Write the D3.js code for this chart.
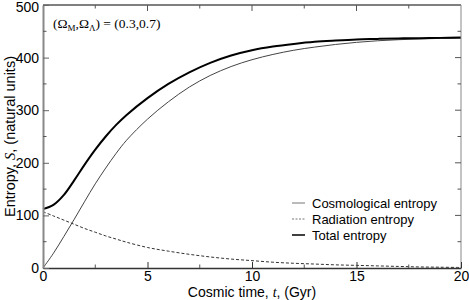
<!DOCTYPE html>
<html>
<head>
<meta charset="utf-8">
<script src="https://cdn.jsdelivr.net/npm/d3@7"></script>
<style>
  body { margin: 0; background: #fff; }
  text { font-family: "Liberation Sans", Arial, sans-serif; }
</style>
</head>
<body>
<div id="chart"></div>
<script>
// values
const times = [0, 0.5, 1, 1.5, 2, 2.5, 3, 3.5, 4, 5, 6, 7, 8, 9, 10, 11, 12, 13, 14, 15, 16, 17, 18, 19, 20];
const cosmological = [0, 28, 60, 93, 127, 160, 190, 218, 243, 283, 316, 344, 366, 383, 396, 406, 414, 420, 425, 429, 432, 434, 435.5, 436.5, 437];
const radiation = [107, 99, 91, 83, 75, 68, 61, 55, 49, 39, 32, 26, 21, 17, 14, 11, 9, 7.5, 6, 5, 4, 3, 2, 1.5, 1];
const total = [112, 120, 139, 167, 197, 225, 250, 272, 291, 323, 350, 372, 390, 404, 414, 421, 426, 430, 432.5, 434.5, 435.5, 436.5, 437, 437.5, 438];

const xTicks = [0, 5, 10, 15, 20];
const yTicks = [0, 100, 200, 300, 400, 500];
const xMinor = [2.5, 7.5, 12.5, 17.5];
const yMinor = [50, 150, 250, 350, 450];

const series = [
  {name: 'Cosmological entropy', values: cosmological, color: '#444', width: 1, dash: null, legendColor: '#777'},
  {name: 'Radiation entropy', values: radiation, color: '#333', width: 1, dash: '3,2', legendColor: '#777'},
  {name: 'Total entropy', values: total, color: '#000', width: 2, dash: null, legendColor: '#000'}
];

const W = 469, H = 300;
const margin = {top: 5, right: 8, bottom: 32, left: 43};
const width = W - margin.left - margin.right;
const height = H - margin.top - margin.bottom;

const svg = d3.select('#chart').append('svg')
    .attr('width', W)
    .attr('height', H);

const chart = svg.append('g')
    .attr('transform', `translate(${margin.left},${margin.top})`);

const x = d3.scaleLinear().domain([0, 20]).range([0, width]);
const y = d3.scaleLinear().domain([0, 500]).range([height, 0]);

// curves
const line = d3.line()
    .x(d => x(d[0]))
    .y(d => y(d[1]))
    .curve(d3.curveCatmullRom.alpha(0.5));

series.forEach(s => {
  chart.append('path')
      .datum(times.map((t, i) => [t, s.values[i]]))
      .attr('fill', 'none')
      .attr('stroke', s.color)
      .attr('stroke-width', s.width)
      .attr('stroke-dasharray', s.dash)
      .attr('d', line);
});

// frame
chart.append('line').attr('x1', 0).attr('x2', width).attr('y1', 0).attr('y2', 0)
    .attr('stroke', '#000').attr('stroke-width', 1);
chart.append('line').attr('x1', width).attr('x2', width).attr('y1', 0).attr('y2', height)
    .attr('stroke', '#888').attr('stroke-width', 1);

// axes with inward ticks
const bottom = chart.append('g')
    .attr('transform', `translate(0,${height})`)
    .call(d3.axisBottom(x).tickValues(xTicks).tickSizeInner(-6).tickSizeOuter(0).tickPadding(3));
const left = chart.append('g')
    .call(d3.axisLeft(y).tickValues(yTicks).tickSizeInner(-6).tickSizeOuter(0).tickPadding(4));

[bottom, left].forEach(a => {
  a.selectAll('text').attr('font-size', 14).attr('fill', '#000')
      .style('font-family', '"Liberation Sans", Arial, sans-serif');
});
left.selectAll('text').filter(d => d === 500).attr('dy', '0.45em');
bottom.select('.domain').attr('stroke', '#333').attr('stroke-width', 1.5);
left.select('.domain').attr('stroke', '#888').attr('stroke-width', 2);
bottom.selectAll('.tick line').attr('stroke', '#333');
left.selectAll('.tick line').attr('stroke', '#666');

// minor ticks and mirrored ticks on top / right
const tickG = chart.append('g').attr('stroke', '#555').attr('stroke-width', 1);
xTicks.concat(xMinor).forEach(v => {
  const len = xMinor.includes(v) ? 3.5 : 6;
  if (xMinor.includes(v)) {
    tickG.append('line').attr('x1', x(v)).attr('x2', x(v)).attr('y1', height).attr('y2', height - len);
  }
  if (v > 0 && v < 20) {
    tickG.append('line').attr('x1', x(v)).attr('x2', x(v)).attr('y1', 0).attr('y2', len);
  }
});
yTicks.concat(yMinor).forEach(v => {
  const len = yMinor.includes(v) ? 3.5 : 6;
  if (yMinor.includes(v)) {
    tickG.append('line').attr('x1', 0).attr('x2', len).attr('y1', y(v)).attr('y2', y(v));
  }
  if (v > 0 && v < 500) {
    tickG.append('line').attr('x1', width).attr('x2', width - len).attr('y1', y(v)).attr('y2', y(v));
  }
});

// axis titles
const xTitle = svg.append('text')
    .attr('x', margin.left + width / 2)
    .attr('y', 297)
    .attr('text-anchor', 'middle')
    .attr('font-size', 14);
xTitle.append('tspan').text('Cosmic time, ');
xTitle.append('tspan').attr('font-family', '"Liberation Serif", serif').attr('font-style', 'italic').text('t');
xTitle.append('tspan').text(', (Gyr)');

const yTitle = svg.append('text')
    .attr('transform', `translate(15,${margin.top + height / 2}) rotate(-90)`)
    .attr('text-anchor', 'middle')
    .attr('font-size', 14.5);
yTitle.append('tspan').text('Entropy, ');
yTitle.append('tspan').attr('font-family', '"Liberation Serif", serif').attr('font-style', 'italic').text('S');
yTitle.append('tspan').text(', (natural units)');

// annotation
const note = chart.append('text')
    .attr('x', 10)
    .attr('y', 23)
    .attr('font-size', 13.5)
    .style('font-family', '"Liberation Serif", "Times New Roman", serif');
note.append('tspan').text('(Ω');
note.append('tspan').attr('font-size', 9).attr('dy', 3).text('M');
note.append('tspan').attr('dy', -3).text(',Ω');
note.append('tspan').attr('font-size', 9).attr('dy', 3).text('Λ');
note.append('tspan').attr('dy', -3).text(') = (0.3,0.7)');

// legend
const legend = svg.append('g')
    .attr('transform', 'translate(292,203)');
const rows = legend.selectAll('g')
    .data(series)
  .join('g')
    .attr('transform', (d, i) => `translate(0,${i * 16})`);
rows.append('line')
    .attr('x1', 0).attr('x2', 13)
    .attr('stroke', d => d.legendColor)
    .attr('stroke-width', d => d.width === 2 ? 1.5 : 1)
    .attr('stroke-dasharray', d => d.dash ? '2,1.5' : null);
rows.append('text')
    .attr('x', 20)
    .attr('dy', '0.35em')
    .attr('font-size', 13)
    .text(d => d.name);
</script>
</body>
</html>
